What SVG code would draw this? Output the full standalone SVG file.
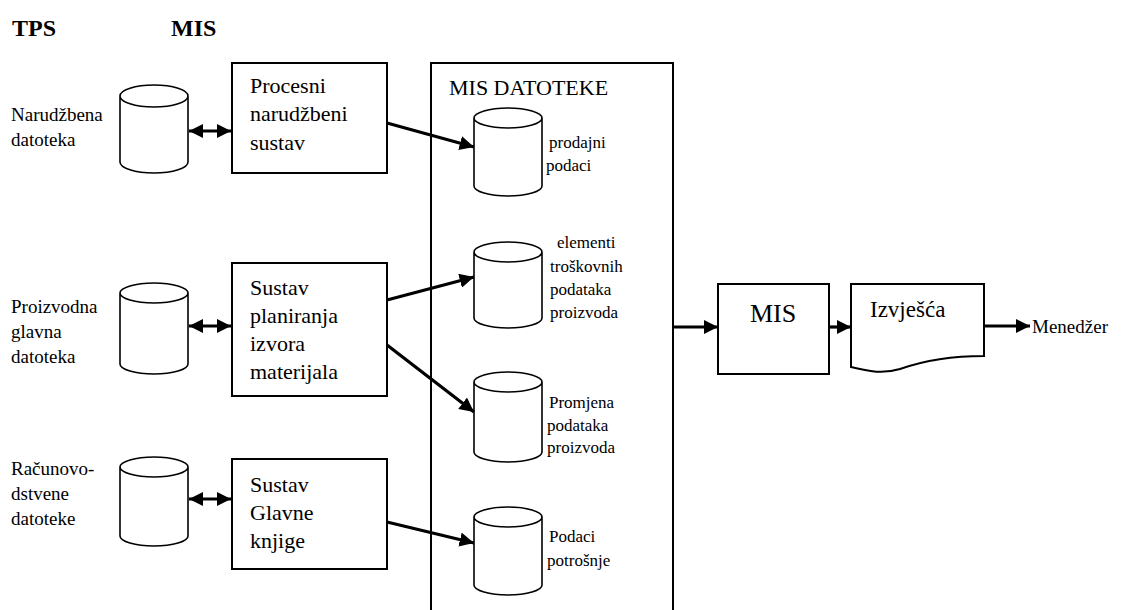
<svg xmlns="http://www.w3.org/2000/svg" width="1123" height="610" viewBox="0 0 1123 610" font-family="Liberation Serif, Times New Roman, serif">
<style>
text{fill:#000}
.h{font-size:24px;font-weight:bold}
.l{font-size:19px}
.b{font-size:22px}
.s{font-size:17px}
.box{fill:#fff;stroke:#000;stroke-width:2}
.cyl{fill:#fff;stroke:#000;stroke-width:1.6}
.con{stroke:#000;stroke-width:3.2;fill:none}
</style>
<defs>
<marker id="ah" viewBox="0 0 10 10" refX="10" refY="5" markerWidth="4.5" markerHeight="4.5" orient="auto" markerUnits="strokeWidth"><path d="M0,0L10,5L0,10z" fill="#000"/></marker>
<marker id="as" viewBox="0 0 10 10" refX="0" refY="5" markerWidth="4.5" markerHeight="4.5" orient="auto" markerUnits="strokeWidth"><path d="M10,0L0,5L10,10z" fill="#000"/></marker>
</defs>

<text class="h" x="12" y="36">TPS</text>
<text class="h" x="171" y="36">MIS</text>

<g id="mis-datoteke">
<path class="box" d="M431,612V63H673V612"/>
<text class="b" x="449" y="95">MIS DATOTEKE</text>
</g>

<g id="tps1">
<text class="l" x="11" y="121">Narudžbena</text>
<text class="l" x="11" y="146">datoteka</text>
<path class="cyl" d="M120,96V162A34,11 0 0 0 188,162V96A34,11 0 0 0 120,96A34,11 0 0 0 188,96"/>
</g>
<g id="tps2">
<text class="l" x="11" y="313">Proizvodna</text>
<text class="l" x="11" y="338">glavna</text>
<text class="l" x="11" y="363">datoteka</text>
<path class="cyl" d="M120,293V364A34,10 0 0 0 188,364V293A34,10 0 0 0 120,293A34,10 0 0 0 188,293"/>
</g>
<g id="tps3">
<text class="l" x="11" y="475">Računovo-</text>
<text class="l" x="11" y="500">dstvene</text>
<text class="l" x="11" y="525">datoteke</text>
<path class="cyl" d="M120,467V536A34,10 0 0 0 188,536V467A34,10 0 0 0 120,467A34,10 0 0 0 188,467"/>
</g>

<g id="sys1">
<rect class="box" x="232" y="63" width="155" height="110"/>
<text class="b" x="250" y="93">Procesni</text>
<text class="b" x="250" y="121">narudžbeni</text>
<text class="b" x="250" y="150">sustav</text>
</g>
<g id="sys2">
<rect class="box" x="232" y="263" width="155" height="133"/>
<text class="b" x="250" y="295">Sustav</text>
<text class="b" x="250" y="323">planiranja</text>
<text class="b" x="250" y="351">izvora</text>
<text class="b" x="250" y="379">materijala</text>
</g>
<g id="sys3">
<rect class="box" x="232" y="459" width="155" height="110"/>
<text class="b" x="250" y="492">Sustav</text>
<text class="b" x="250" y="520">Glavne</text>
<text class="b" x="250" y="548">knjige</text>
</g>

<g id="db1">
<path class="cyl" d="M474,118V186A34,10 0 0 0 542,186V118A34,10 0 0 0 474,118A34,10 0 0 0 542,118"/>
<text class="s" x="549" y="148">prodajni</text>
<text class="s" x="546" y="171">podaci</text>
</g>
<g id="db2">
<path class="cyl" d="M474,252V318A34,10 0 0 0 542,318V252A34,10 0 0 0 474,252A34,10 0 0 0 542,252"/>
<text class="s" x="557" y="248">elementi</text>
<text class="s" x="550" y="272">troškovnih</text>
<text class="s" x="550" y="295">podataka</text>
<text class="s" x="550" y="318">proizvoda</text>
</g>
<g id="db3">
<path class="cyl" d="M474,382V452A34,10 0 0 0 542,452V382A34,10 0 0 0 474,382A34,10 0 0 0 542,382"/>
<text class="s" x="549" y="408">Promjena</text>
<text class="s" x="547" y="431">podataka</text>
<text class="s" x="547" y="453">proizvoda</text>
</g>
<g id="db4">
<path class="cyl" d="M474,517V585A34,10 0 0 0 542,585V517A34,10 0 0 0 474,517A34,10 0 0 0 542,517"/>
<text class="s" x="549" y="542">Podaci</text>
<text class="s" x="547" y="566">potrošnje</text>
</g>

<g id="mis">
<rect class="box" x="718" y="284" width="111" height="90"/>
<text x="773" y="322" font-size="26" text-anchor="middle">MIS</text>
</g>
<g id="izvjesca">
<path class="box" d="M851,284H984V356C950,356 920,362 900,369C880,375 865,370 851,367Z"/>
<text x="870" y="317" font-size="23">Izvješća</text>
</g>
<g id="menedzer">
<text x="1032" y="333" font-size="19">Menedžer</text>
</g>

<g id="connectors">
<line class="con" x1="189" y1="131" x2="231" y2="131" marker-start="url(#as)" marker-end="url(#ah)"/>
<line class="con" x1="189" y1="326" x2="231" y2="326" marker-start="url(#as)" marker-end="url(#ah)"/>
<line class="con" x1="189" y1="499" x2="231" y2="499" marker-start="url(#as)" marker-end="url(#ah)"/>
<line class="con" x1="387" y1="123" x2="474" y2="147" marker-end="url(#ah)"/>
<line class="con" x1="387" y1="300" x2="474" y2="277" marker-end="url(#ah)"/>
<line class="con" x1="387" y1="345" x2="474" y2="412" marker-end="url(#ah)"/>
<line class="con" x1="387" y1="522" x2="474" y2="543" marker-end="url(#ah)"/>
<line class="con" x1="673" y1="327" x2="718" y2="327" marker-end="url(#ah)"/>
<line class="con" x1="829" y1="327" x2="851" y2="327" marker-end="url(#ah)"/>
<line class="con" x1="984" y1="326" x2="1030" y2="326" marker-end="url(#ah)"/>
</g>
</svg>
